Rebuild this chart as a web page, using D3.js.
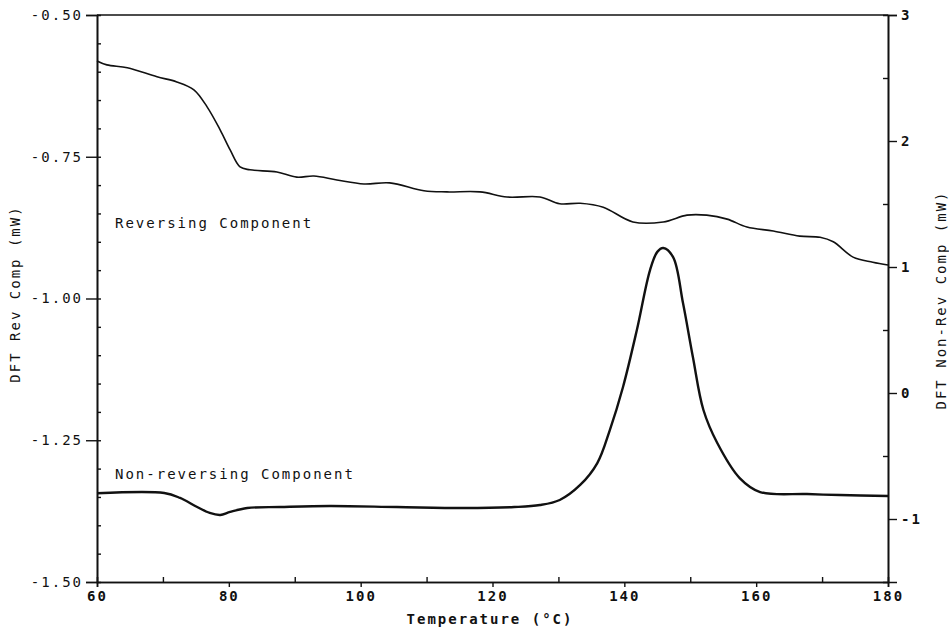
<!DOCTYPE html>
<html>
<head>
<meta charset="utf-8">
<script src="https://cdn.jsdelivr.net/npm/d3@7"></script>
<style>
  body { margin: 0; background: #fff; }
  text { font-family: "DejaVu Sans Mono", "Liberation Mono", monospace; fill: #111; }
</style>
</head>
<body>
<div id="chart"></div>
<script>
// Reversing component (left axis, mW)
const revTemp = [60, 61.5, 64.6, 69.1, 72.1, 74.7, 76.7, 78.7, 80.2, 81.7,
  83.2, 87.3, 90.3, 92.9, 96.4, 100.5, 104.4, 109.6, 113.1, 118.1,
  122.2, 127.2, 130.2, 133.3, 136.8, 141.3, 145.9, 149.5, 152.5, 155.6,
  158.6, 162.6, 166.6, 169.7, 171.7, 174.7, 177.7, 180];
const revValue = [-0.581, -0.588, -0.593, -0.609, -0.618, -0.632, -0.662, -0.703, -0.738, -0.768,
  -0.773, -0.777, -0.786, -0.784, -0.791, -0.798, -0.796, -0.810, -0.812, -0.812,
  -0.821, -0.821, -0.833, -0.832, -0.839, -0.865, -0.865, -0.853, -0.853, -0.860,
  -0.874, -0.881, -0.890, -0.892, -0.900, -0.927, -0.936, -0.941];

// Non-reversing component (right axis, mW)
const nonRevTemp = [60, 70.2, 72.6, 75.2, 77.1, 78.7, 80.2, 82.8, 87.8, 95.3,
  105.5, 115.7, 123.3, 127.2, 130.2, 133.3, 135.9, 137.8, 139.8, 141.9,
  143.9, 145, 145.9, 147.4, 148.9, 150.4, 152, 154.1, 157.5, 160.6,
  167.7, 172.7, 180];
const nonRevValue = [-0.796, -0.794, -0.833, -0.905, -0.952, -0.968, -0.944, -0.913, -0.905, -0.897,
  -0.905, -0.913, -0.905, -0.889, -0.849, -0.730, -0.556, -0.294, 0.048, 0.500,
  0.976, 1.12, 1.151, 1.079, 0.714, 0.286, -0.135, -0.397, -0.675, -0.786,
  -0.802, -0.810, -0.817];

const xTicks = [60, 80, 100, 120, 140, 160, 180];
const leftTicks = [-1.5, -1.25, -1.0, -0.75, -0.5];
const rightTicks = [-1, 0, 1, 2, 3];

const width = 949, height = 627;
const margin = { top: 15, right: 61, bottom: 45, left: 97 };

const svg = d3.select("#chart").append("svg")
  .attr("width", width)
  .attr("height", height);

const x = d3.scaleLinear().domain([60, 180]).range([margin.left, width - margin.right]);
const yLeft = d3.scaleLinear().domain([-1.5, -0.5]).range([height - margin.bottom, margin.top]);
const yRight = d3.scaleLinear().domain([-1.5, 3]).range([height - margin.bottom, margin.top]);

const fontSize = 14;
const spacing = "2px";

// frame top line
svg.append("line")
  .attr("x1", x(60)).attr("x2", x(180))
  .attr("y1", yLeft(-0.5)).attr("y2", yLeft(-0.5))
  .attr("stroke", "#111").attr("stroke-width", 1.6);

function styleAxis(g) {
  g.select(".domain").attr("stroke", "#111").attr("stroke-width", 1.6);
  g.selectAll(".tick line").attr("stroke", "#111").attr("stroke-width", 1.4);
  g.selectAll(".tick text")
    .style("font-family", '"DejaVu Sans Mono", monospace')
    .style("font-size", fontSize + "px")
    .style("letter-spacing", spacing)
    .attr("fill", "#111");
}

// bottom axis
svg.append("g")
  .attr("transform", `translate(0,${yLeft(-1.5)})`)
  .call(d3.axisBottom(x).tickValues(d3.range(70, 180, 20)).tickSize(-5).tickFormat(""))
  .call(styleAxis);
svg.append("g")
  .attr("transform", `translate(0,${yLeft(-1.5)})`)
  .call(d3.axisBottom(x).tickValues(xTicks).tickSize(5).tickPadding(4).tickFormat(d3.format("d")))
  .call(styleAxis)
  .call(g => g.selectAll(".tick text").style("font-weight", "bold"));

// left axis
svg.append("g")
  .attr("transform", `translate(${x(60)},0)`)
  .call(d3.axisLeft(yLeft).tickValues(d3.range(-1.45, -0.5, 0.05)).tickSize(-4).tickFormat(""))
  .call(styleAxis);
svg.append("g")
  .attr("transform", `translate(${x(60)},0)`)
  .call(d3.axisLeft(yLeft).tickValues(leftTicks).tickSize(11).tickPadding(3).tickFormat(d => d.toFixed(2)))
  .call(styleAxis);

// right axis
svg.append("g")
  .attr("transform", `translate(${x(180)},0)`)
  .call(d3.axisRight(yRight).tickValues([-0.5, 0.5, 1.5, 2.5]).tickSize(-5).tickFormat(""))
  .call(styleAxis);
svg.append("g")
  .attr("transform", `translate(${x(180)},0)`)
  .call(d3.axisRight(yRight).tickValues(rightTicks).tickSize(9).tickPadding(4).tickFormat(d => String(d)))
  .call(styleAxis)
  .call(g => g.selectAll(".tick text").style("font-weight", "bold"));

// curves
const revLine = d3.line()
  .x((d, i) => x(revTemp[i]))
  .y(d => yLeft(d))
  .curve(d3.curveCatmullRom.alpha(0.5));
svg.append("path")
  .datum(revValue)
  .attr("d", revLine)
  .attr("fill", "none")
  .attr("stroke", "#111")
  .attr("stroke-width", 1.6);

const nonRevLine = d3.line()
  .x((d, i) => x(nonRevTemp[i]))
  .y(d => yRight(d))
  .curve(d3.curveCatmullRom.alpha(0.5));
svg.append("path")
  .datum(nonRevValue)
  .attr("d", nonRevLine)
  .attr("fill", "none")
  .attr("stroke", "#111")
  .attr("stroke-width", 2.4);

// labels on the curves
svg.append("text")
  .attr("x", 115).attr("y", 228)
  .style("font-size", fontSize + "px")
  .style("letter-spacing", spacing)
  .text("Reversing Component");
svg.append("text")
  .attr("x", 115).attr("y", 479)
  .style("font-size", fontSize + "px")
  .style("letter-spacing", spacing)
  .text("Non-reversing Component");

// axis titles
svg.append("text")
  .attr("x", 490).attr("y", 624)
  .attr("text-anchor", "middle")
  .style("font-size", fontSize + "px")
  .style("letter-spacing", spacing)
  .style("font-weight", "bold")
  .text("Temperature (°C)");
svg.append("text")
  .attr("transform", "translate(20,294) rotate(-90)")
  .attr("text-anchor", "middle")
  .style("font-size", fontSize + "px")
  .style("letter-spacing", spacing)
  .text("DFT Rev Comp (mW)");
svg.append("text")
  .attr("transform", "translate(946,300) rotate(-90)")
  .attr("text-anchor", "middle")
  .style("font-size", fontSize + "px")
  .style("letter-spacing", spacing)
  .text("DFT Non-Rev Comp (mW)");
</script>
</body>
</html>
